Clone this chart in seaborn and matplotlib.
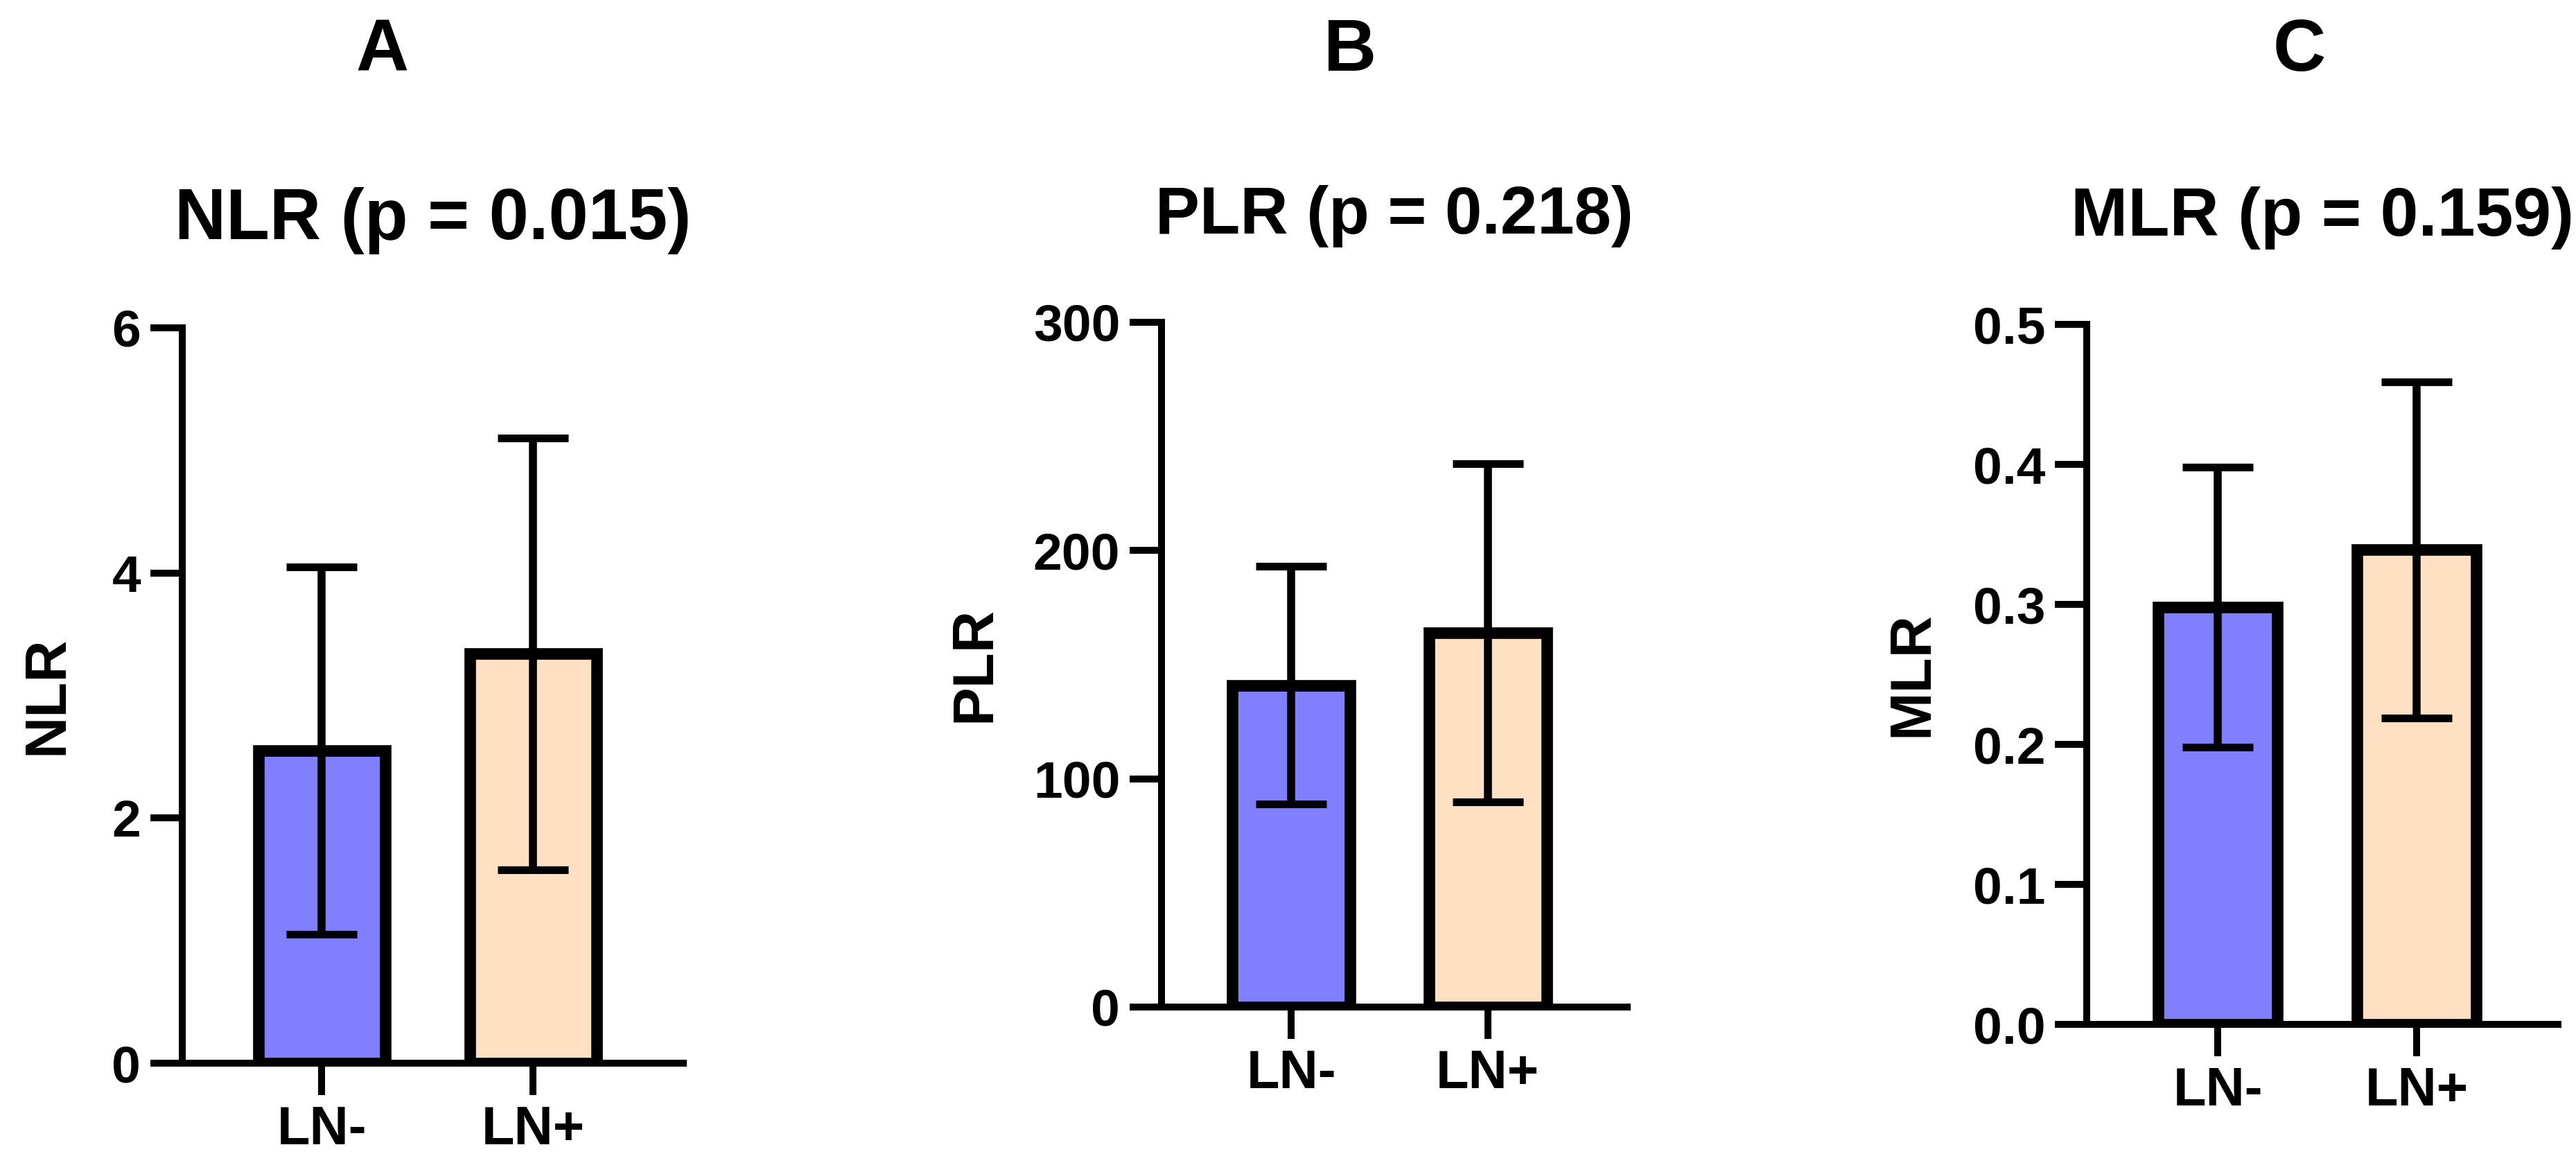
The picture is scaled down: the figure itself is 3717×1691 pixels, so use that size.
import numpy as np
import pandas as pd
import seaborn as sns
import matplotlib.pyplot as plt
from matplotlib.ticker import FormatStrFormatter

sns.set_style('ticks')
plt.rcParams['font.family'] = ['Liberation Sans', 'DejaVu Sans']
plt.rcParams['font.weight'] = 'bold'
plt.rcParams['axes.labelweight'] = 'bold'
plt.rcParams['axes.titleweight'] = 'bold'
for key in ['text.color', 'axes.labelcolor', 'axes.edgecolor', 'xtick.color', 'ytick.color']:
    plt.rcParams[key] = 'black'

# --- data (mean and SD per group) ---
groups = ['LN-', 'LN+']
bar_colors = ['#8080FF', '#FFE0C2']

nlr_mean = [2.55, 3.34]
nlr_sd = [1.50, 1.76]
plr_mean = [141, 164]
plr_sd = [52, 74]
mlr_mean = [0.298, 0.339]
mlr_sd = [0.100, 0.120]

panel_letters = ['A', 'B', 'C']
titles = ['NLR (p = 0.015)', 'PLR (p = 0.218)', 'MLR (p = 0.159)']
ylabels = ['NLR', 'PLR', 'MLR']
yticks_nlr = [0, 2, 4, 6]
yticks_plr = [0, 100, 200, 300]
yticks_mlr = [0.0, 0.1, 0.2, 0.3, 0.4, 0.5]

# --- layout (pixels of the 3717 x 1691 canvas) ---
W, H = 3717, 1691
boxes = [(263, 986, 473, 1534), (1676, 2348, 465, 1453), (3011, 3691, 468, 1478)]
letter_x = [551, 1948, 3318]
ylabel_x = [68, 1406, 2759]
title_size = [74, 69, 71]

fig = plt.figure(figsize=(W / 100, H / 100), dpi=100)

panels = [
    (nlr_mean, nlr_sd, yticks_nlr, '%d'),
    (plr_mean, plr_sd, yticks_plr, '%d'),
    (mlr_mean, mlr_sd, yticks_mlr, '%.1f'),
]

for i, (means, sds, ticks, fmt) in enumerate(panels):
    x0, x1, y0, y1 = boxes[i]
    ax = fig.add_axes([x0 / W, 1 - y1 / H, (x1 - x0) / W, (y1 - y0) / H])
    df = pd.DataFrame({'group': groups, 'value': means})
    sns.barplot(data=df, x='group', y='value', hue='group', palette=bar_colors,
                saturation=1, legend=False, width=0.6, edgecolor='black',
                linewidth=12, errorbar=None, ax=ax, zorder=2)
    ax.errorbar(np.arange(len(groups)), means, yerr=sds, fmt='none',
                ecolor='black', elinewidth=8.3, capsize=37, capthick=8, zorder=3)

    ax.set_xlim(-0.66, 1.71)
    ax.set_ylim(ticks[0], ticks[-1])
    ax.set_yticks(ticks)
    ax.yaxis.set_major_formatter(FormatStrFormatter(fmt))
    sns.despine(ax=ax)
    for side in ['left', 'bottom']:
        ax.spines[side].set_linewidth(7.2)
        ax.spines[side].set_color('black')
    ax.tick_params(axis='both', width=7.2, length=33, color='black', labelcolor='black')
    ax.tick_params(axis='y', labelsize=54, pad=10)
    ax.tick_params(axis='x', labelsize=56, pad=10)
    for lab in ax.get_xticklabels() + ax.get_yticklabels():
        lab.set_fontweight('bold')

    ax.set_xlabel('')
    ax.set_ylabel(ylabels[i], fontsize=60, fontweight='bold', va='center', color='black')
    ax.yaxis.set_label_coords((ylabel_x[i] - x0) / (x1 - x0), 0.5)
    ax.set_title(titles[i], fontsize=title_size[i], fontweight='bold', pad=92, color='black')

    fig.text(letter_x[i] / W, 1 - 102 / H, panel_letters[i], fontsize=76,
             fontweight='bold', ha='center', va='baseline', color='black')

fig.savefig('out.png', dpi=100)
